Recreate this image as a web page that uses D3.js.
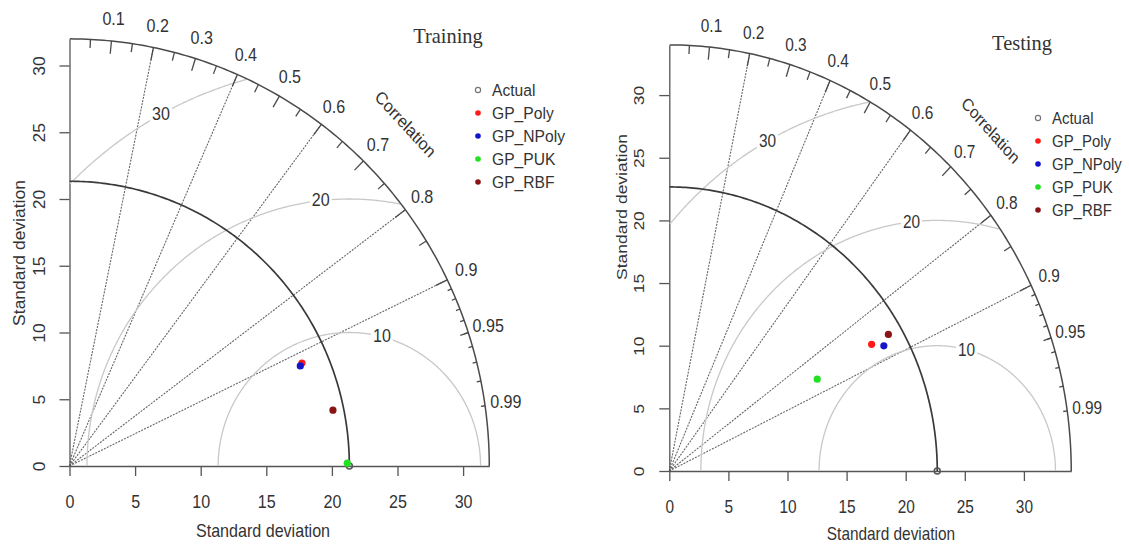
<!DOCTYPE html>
<html><head><meta charset="utf-8">
<script src="https://cdn.jsdelivr.net/npm/d3@7"></script>
<style>body{margin:0;background:#fff} svg{display:block}</style>
</head><body>
<svg id="chart" width="1129" height="544"></svg>
<script>
// ---------------- data ----------------
const seriesNames  = ["GP_Poly", "GP_NPoly", "GP_PUK", "GP_RBF"];
const seriesColors = ["#ff1a1a", "#1414cc", "#22e022", "#8a1414"];
const refName = "Actual";

const trainingRefSD = 21.33;
const trainingSD    = [19.32, 19.12, 21.17, 20.51];
const trainingCorr  = [0.917, 0.920, 0.99995, 0.979];

const testingRefSD = 22.67;
const testingSD    = [19.88, 20.72, 14.50, 21.50];
const testingCorr  = [0.861, 0.876, 0.863, 0.862];

const sdTicks     = [0, 5, 10, 15, 20, 25, 30];
const corrLabels  = [0.1, 0.2, 0.3, 0.4, 0.5, 0.6, 0.7, 0.8, 0.9, 0.95, 0.99];
const corrLines   = [0.2, 0.4, 0.6, 0.8, 0.9];
const bigTicks    = [0.1, 0.2, 0.3, 0.4, 0.5, 0.6, 0.7, 0.8, 0.9];
const medTicks    = [0.05, 0.15, 0.25, 0.35, 0.45, 0.55, 0.65, 0.75, 0.85, 0.95];
const smlTicks    = [0.91, 0.92, 0.93, 0.94, 0.95, 0.96, 0.97, 0.98, 0.99];
const rmsContours = [10, 20, 30];
const rmsLabelPos = [45, 57.5, 70];

// ---------------- layout ----------------
const panels = [
  { title: "Training", ref: trainingRefSD, sd: trainingSD, corr: trainingCorr,
    x0: 69.5, y0: 466, pxX: 13.12, pxY: 13.35, kx: 0.92,
    titleX: 448, titleY: 43, legX: 478, legY: 90,
    xTitleX: 263, xTitleY: 537, yTitleX: 19, yTitleY: 253 },
  { title: "Testing", ref: testingRefSD, sd: testingSD, corr: testingCorr,
    x0: 669.3, y0: 471, pxX: 11.82, pxY: 12.53, kx: 0.88,
    titleX: 1022, titleY: 50, legX: 1038, legY: 118,
    xTitleX: 891, xTitleY: 540, yTitleX: 621, yTitleY: 207 }
];

const FONT = "'Liberation Sans', Arial, Helvetica, sans-serif";
const FS = 17.5;
const TXT = "#333";
const svg = d3.select("#chart");

function txt(g, x, y, s, kx, rot, opts = {}) {
  return g.append("text")
    .attr("transform", `translate(${x},${y}) scale(${kx},1) rotate(${rot || 0})`)
    .attr("text-anchor", opts.anchor || "middle")
    .attr("dominant-baseline", opts.base || "auto")
    .attr("font-family", opts.family || FONT)
    .attr("font-size", opts.size || FS)
    .attr("fill", opts.fill || TXT)
    .text(s);
}

panels.forEach(p => {
  const maxsd = 1.5 * p.ref;
  const g = svg.append("g");
  const x = d3.scaleLinear().domain([0, maxsd]).range([p.x0, p.x0 + maxsd * p.pxX]);
  const y = d3.scaleLinear().domain([0, maxsd]).range([p.y0, p.y0 - maxsd * p.pxY]);
  const line = d3.line().x(d => x(d[0])).y(d => y(d[1]));
  const cap = 0.716 * FS;

  // correlation lines (dotted)
  g.selectAll(".corrline").data(corrLines).enter().append("path")
    .attr("d", c => line([[0, 0], [maxsd * c, maxsd * Math.sqrt(1 - c * c)]]))
    .attr("stroke", "#666").attr("stroke-width", 1.1)
    .attr("stroke-dasharray", "2,1.2").attr("fill", "none");

  // axes
  const xAxis = d3.axisBottom(x).tickValues(sdTicks).tickSize(10).tickSizeOuter(0).tickFormat(d3.format("d"));
  const yAxis = d3.axisLeft(y).tickValues(sdTicks).tickSize(10).tickSizeOuter(0).tickFormat(d3.format("d"));
  const gx = g.append("g").attr("transform", `translate(0,${p.y0})`).call(xAxis);
  const gy = g.append("g").attr("transform", `translate(${p.x0},0)`).call(yAxis);
  [gx, gy].forEach(a => {
    a.selectAll("path.domain").attr("stroke", "#555").attr("stroke-width", 1.3);
    a.selectAll(".tick line").attr("stroke", "#555").attr("stroke-width", 1.3);
    a.selectAll(".tick text").attr("font-family", FONT).attr("font-size", FS).attr("fill", TXT);
  });
  gx.selectAll(".tick text").attr("y", null).attr("dy", null)
    .attr("transform", `translate(0,42) scale(${p.kx},1)`);
  gy.selectAll(".tick text").attr("x", null).attr("dy", null).attr("text-anchor", "middle")
    .attr("transform", `translate(${-30.5 + cap * p.kx / 2},0) scale(${p.kx},1) rotate(-90)`);

  // centred RMS contours
  rmsContours.forEach((gam, i) => {
    const pts = [];
    for (let a = 0; a <= Math.PI + 1e-9; a += 0.005) {
      const cx = p.ref + gam * Math.cos(a), cy = gam * Math.sin(a);
      if (cx >= 0 && cx * cx + cy * cy <= maxsd * maxsd) pts.push([cx, cy]);
    }
    g.append("path").attr("d", line(pts)).attr("stroke", "#c8c8c8")
      .attr("stroke-width", 1.3).attr("fill", "none");
    const ang = (Math.floor(rmsLabelPos[i]) - 1) * 0.03;
    const lx = p.ref + gam * Math.cos(ang), ly = gam * Math.sin(ang);
    if (lx > 0) {
      const lg = g.append("g");
      const t = txt(lg, x(lx), y(ly), String(gam), p.kx, 0, { base: "central" });
      const bb = t.node().getBBox();
      const w = bb.width * p.kx + 4, h = bb.height * 0.8;
      lg.insert("rect", "text").attr("x", x(lx) - w / 2).attr("y", y(ly) - h / 2)
        .attr("width", w).attr("height", h).attr("fill", "#fff");
    }
  });

  // outer arc
  const arc = r => d3.range(0, 158).map(k => {
    const a = Math.min(k * 0.01, Math.PI / 2);
    return [r * Math.cos(a), r * Math.sin(a)];
  });
  g.append("path").attr("d", line(arc(maxsd))).attr("stroke", "#4a4a4a")
    .attr("stroke-width", 1.5).attr("fill", "none");

  // ticks on outer arc
  const tk = (vals, f) => g.selectAll(null).data(vals).enter().append("path")
    .attr("d", c => { const s = Math.sqrt(1 - c * c);
      return line([[maxsd * c, maxsd * s], [f * maxsd * c, f * maxsd * s]]); })
    .attr("stroke", "#4a4a4a").attr("stroke-width", 1.3);
  tk(bigTicks, 0.97); tk(medTicks, 0.98); tk(smlTicks, 0.99);

  // reference sd arc
  g.append("path").attr("d", line(arc(p.ref))).attr("stroke", "#3a3a3a")
    .attr("stroke-width", 1.7).attr("fill", "none");

  // reference point
  g.append("circle").attr("cx", x(p.ref)).attr("cy", y(0)).attr("r", 3)
    .attr("fill", "none").attr("stroke", "#555").attr("stroke-width", 1.5);

  // correlation labels
  corrLabels.forEach(c => {
    const r = 1.05 * maxsd;
    txt(g, x(r * c), y(r * Math.sqrt(1 - c * c)), String(c), p.kx, 0, { base: "central" });
  });
  txt(g, x(0.8 * maxsd), y(0.8 * maxsd), "Correlation", p.kx, 45, { base: "central" });

  // titles
  txt(g, p.xTitleX, p.xTitleY, "Standard deviation", p.kx, 0);
  txt(g, p.yTitleX + cap * p.kx / 2, p.yTitleY, "Standard deviation", p.kx, -90);
  txt(g, p.titleX, p.titleY, p.title, 0.95, 0,
    { family: "'Liberation Serif', 'Times New Roman', serif", size: 21.5, fill: "#333" });

  // model points
  g.selectAll(".pt").data(p.sd.map((s, i) => ({ s, c: p.corr[i], i }))).enter()
    .append("circle")
    .attr("cx", d => x(d.s * d.c))
    .attr("cy", d => y(d.s * Math.sqrt(1 - d.c * d.c)))
    .attr("r", 3.6).attr("fill", d => seriesColors[d.i]);

  // legend
  const names = [refName].concat(seriesNames);
  names.forEach((n, i) => {
    const ly = p.legY + i * 23;
    if (i === 0) {
      g.append("circle").attr("cx", p.legX).attr("cy", ly).attr("r", 2.6)
        .attr("fill", "none").attr("stroke", "#777").attr("stroke-width", 1.2);
    } else {
      g.append("circle").attr("cx", p.legX).attr("cy", ly).attr("r", 2.8)
        .attr("fill", seriesColors[i - 1]);
    }
    txt(g, p.legX + 14, ly, n, p.kx, 0, { anchor: "start", base: "central", size: 17 });
  });
});
</script>
</body></html>
